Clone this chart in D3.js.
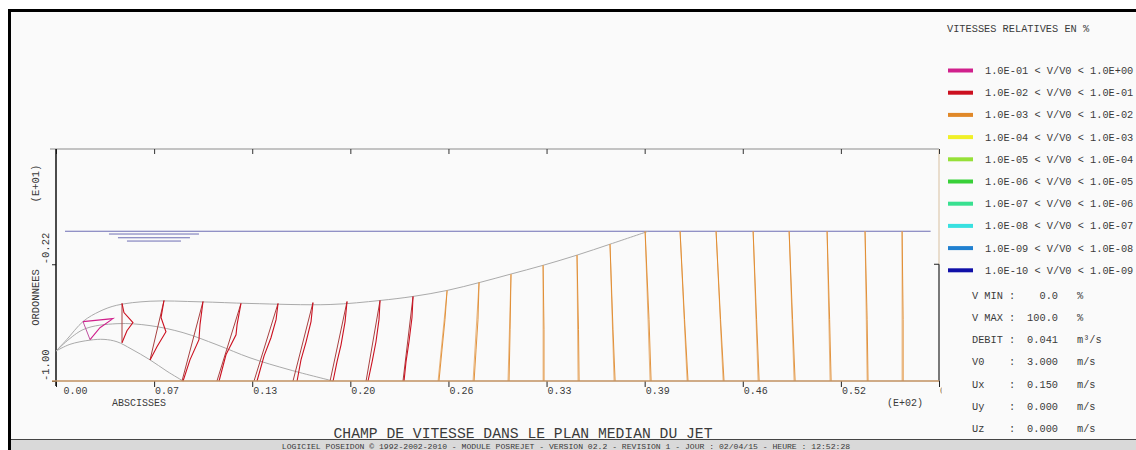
<!DOCTYPE html>
<html>
<head>
<meta charset="utf-8">
<script src="https://cdn.jsdelivr.net/npm/d3@7"></script>
<style>
body{margin:0;background:#fff}
svg{display:block}
text{font-family:"Liberation Mono","Courier New",monospace;fill:#3a3a3a}
</style>
</head>
<body>
<script>
// x in E+02, y in E+01
var xTicks = [0, 0.0654, 0.1308, 0.1962, 0.2616, 0.327, 0.3924, 0.4578, 0.5232, 0.5886];
var xTickLabels = ["0.00","0.07","0.13","0.20","0.26","0.33","0.39","0.46","0.52","0.59"];
var yTicks = [-1.0, -0.22];
var yTickLabels = ["-1.00","-0.22"];

// jet envelope
var upperEdge = [[0,-0.80],[0.0071,-0.724],[0.0182,-0.601],[0.0293,-0.534],[0.0405,-0.494],[0.0627,-0.467],
  [0.0960,-0.471],[0.1293,-0.482],[0.1827,-0.489],[0.2160,-0.462],[0.2380,-0.435],[0.2607,-0.395],
  [0.2827,-0.341],[0.3027,-0.287],[0.3247,-0.227],[0.3473,-0.159],[0.3693,-0.086],[0.3947,0]];
var centreLine = [[0,-0.80],[0.0180,-0.657],[0.0407,-0.617],[0.0627,-0.630],[0.0847,-0.677],
  [0.1073,-0.758],[0.1293,-0.845],[0.1560,-0.926],[0.1847,-1.0]];
var lowerEdge = [[0,-0.80],[0.0093,-0.755],[0.0227,-0.727],[0.0320,-0.722],[0.0407,-0.738],
  [0.0500,-0.785],[0.0627,-0.859],[0.0740,-0.935],[0.0847,-1.0]];

var waterLevel = [[0.006,0],[0.583,0]];
var waterMark = [[0.0353,0.0953,-0.018],[0.0413,0.0893,-0.043],[0.0473,0.0833,-0.065]];

// velocity profiles: band = legend class
var profiles = [
 {band:0, top:[0.0180,-0.603], bottom:[0.0227,-0.724], curve:[[0.0180,-0.603],[0.0380,-0.583],[0.0293,-0.644],[0.0227,-0.724]]},
 {band:1, top:[0.0440,-0.482], bottom:[0.0440,-0.744], curve:[[0.0440,-0.482],[0.0453,-0.543],[0.0513,-0.610],[0.0473,-0.664],[0.0440,-0.744]]},
 {band:1, top:[0.0720,-0.462], bottom:[0.0627,-0.859], curve:[[0.0720,-0.462],[0.0700,-0.576],[0.0733,-0.671],[0.0673,-0.771],[0.0627,-0.859]]},
 {band:1, top:[0.0980,-0.469], bottom:[0.0840,-1.0], curve:[[0.0980,-0.469],[0.0960,-0.623],[0.0953,-0.724],[0.0893,-0.859],[0.0847,-1.0]]},
 {band:1, top:[0.1233,-0.482], bottom:[0.1073,-1.0], curve:[[0.1233,-0.482],[0.1207,-0.623],[0.1200,-0.691],[0.1133,-0.825],[0.1087,-1.0]]},
 {band:1, top:[0.1480,-0.482], bottom:[0.1320,-1.0], curve:[[0.1480,-0.482],[0.1467,-0.590],[0.1433,-0.711],[0.1387,-0.832],[0.1340,-1.0]]},
 {band:1, top:[0.1713,-0.476], bottom:[0.1580,-1.0], curve:[[0.1713,-0.476],[0.1700,-0.603],[0.1667,-0.738],[0.1633,-0.859],[0.1607,-1.0]]},
 {band:1, top:[0.1940,-0.469], bottom:[0.1827,-1.0], curve:[[0.1940,-0.469],[0.1927,-0.603],[0.1900,-0.758],[0.1873,-0.872],[0.1847,-1.0]]},
 {band:1, top:[0.2160,-0.462], bottom:[0.2067,-1.0], curve:[[0.2160,-0.462],[0.2153,-0.590],[0.2133,-0.738],[0.2107,-0.872],[0.2080,-1.0]]},
 {band:1, top:[0.2380,-0.435], bottom:[0.2313,-1.0], curve:[[0.2380,-0.435],[0.2373,-0.576],[0.2353,-0.738],[0.2333,-0.872],[0.2320,-1.0]]},
 {band:2, top:[0.2607,-0.395], bottom:[0.2547,-1.0], curve:[[0.2607,-0.395],[0.2593,-0.590],[0.2573,-0.792],[0.2553,-1.0]]},
 {band:2, top:[0.2820,-0.341], bottom:[0.2780,-1.0], curve:[[0.2820,-0.341],[0.2813,-0.590],[0.2800,-0.792],[0.2787,-1.0]]},
 {band:2, top:[0.3033,-0.287], bottom:[0.3013,-1.0], curve:[[0.3033,-0.287],[0.3027,-0.657],[0.3020,-1.0]]},
 {band:2, top:[0.3247,-0.227], bottom:[0.3247,-1.0], curve:[[0.3247,-0.227],[0.3253,-0.657],[0.3253,-1.0]]},
 {band:2, top:[0.3473,-0.159], bottom:[0.3480,-1.0], curve:[[0.3473,-0.159],[0.3483,-0.657],[0.3487,-1.0]]},
 {band:2, top:[0.3693,-0.086], bottom:[0.3720,-1.0], curve:[[0.3693,-0.086],[0.3713,-0.657],[0.3727,-1.0]]},
 {band:2, top:[0.3927,0], bottom:[0.3960,-1.0], curve:[[0.3927,0],[0.3953,-0.590],[0.3967,-1.0]]},
 {band:2, top:[0.4160,0], bottom:[0.4207,-1.0], curve:[[0.4160,0],[0.4190,-0.590],[0.4213,-1.0]]},
 {band:2, top:[0.4400,0], bottom:[0.4447,-1.0], curve:[[0.4400,0],[0.4430,-0.590],[0.4453,-1.0]]},
 {band:2, top:[0.4647,0], bottom:[0.4680,-1.0], curve:[[0.4647,0],[0.4670,-0.590],[0.4687,-1.0]]},
 {band:2, top:[0.4887,0], bottom:[0.4920,-1.0], curve:[[0.4887,0],[0.4910,-0.590],[0.4927,-1.0]]},
 {band:2, top:[0.5140,0], bottom:[0.5160,-1.0], curve:[[0.5140,0],[0.5157,-0.590],[0.5167,-1.0]]},
 {band:2, top:[0.5393,0], bottom:[0.5407,-1.0], curve:[[0.5393,0],[0.5407,-0.590],[0.5413,-1.0]]},
 {band:2, top:[0.5640,0], bottom:[0.5640,-1.0], curve:[[0.5640,0],[0.5647,-0.590],[0.5647,-1.0]]}
];

var legendLabels = ["1.0E-01 < V/V0 < 1.0E+00","1.0E-02 < V/V0 < 1.0E-01","1.0E-03 < V/V0 < 1.0E-02",
  "1.0E-04 < V/V0 < 1.0E-03","1.0E-05 < V/V0 < 1.0E-04","1.0E-06 < V/V0 < 1.0E-05",
  "1.0E-07 < V/V0 < 1.0E-06","1.0E-08 < V/V0 < 1.0E-07","1.0E-09 < V/V0 < 1.0E-08",
  "1.0E-10 < V/V0 < 1.0E-09"];
var legendColours = ["#d0208c","#cc1020","#e08828","#f0f028","#96e038","#38d038","#38e090","#38e0e0","#2080d0","#1010a8"];
var baseColours = ["#c050a0","#a84040","#e8b47c"];

var statNames = ["V MIN :","V MAX :","DEBIT :","V0    :","Ux    :","Uy    :","Uz    :"];
var statValues = ["0.0","100.0","0.041","3.000","0.150","0.000","0.000"];
var statUnits = ["%","%","m\u00b3/s","m/s","m/s","m/s","m/s"];

var chartTitle = "CHAMP DE VITESSE DANS LE PLAN MEDIAN DU JET";
var footerText = "LOGICIEL POSEIDON \u00a9 1992-2002-2010 - MODULE POSREJET - VERSION 02.2 - REVISION 1 - JOUR : 02/04/15 - HEURE : 12:52:28";

var W = 1136, H = 450;
var plotL = 56, plotR = 939, plotT = 149, plotB = 381;

var svg = d3.select("body").append("svg").attr("width", W).attr("height", H);

// page frame
svg.append("rect").attr("x", 11).attr("y", 12).attr("width", W - 11).attr("height", 428).attr("fill", "#fafafa");
svg.append("line").attr("x1", 9.5).attr("y1", 9).attr("x2", 9.5).attr("y2", H).attr("stroke", "#000").attr("stroke-width", 3);
svg.append("line").attr("x1", 8).attr("y1", 10.5).attr("x2", W).attr("y2", 10.5).attr("stroke", "#000").attr("stroke-width", 3);
svg.append("rect").attr("x", 11).attr("y", 439.5).attr("width", W - 11).attr("height", 11).attr("fill", "#d9d9d9");
svg.append("line").attr("x1", 11).attr("y1", 439.5).attr("x2", W).attr("y2", 439.5).attr("stroke", "#444").attr("stroke-width", 1);

var x = d3.scaleLinear().domain([0, 0.5886]).range([plotL, plotR]);
var y = d3.scaleLinear().domain([-1, 0.55]).range([plotB, plotT]);

var line = d3.line().x(function(d){ return x(d[0]); }).y(function(d){ return y(d[1]); });
var smooth = d3.line().x(function(d){ return x(d[0]); }).y(function(d){ return y(d[1]); }).curve(d3.curveCatmullRom);

// plot frame
svg.append("line").attr("x1", 50).attr("y1", plotT).attr("x2", plotR).attr("y2", plotT).attr("stroke", "#8c8c8c").attr("stroke-width", 1.2);
svg.append("line").attr("x1", plotR).attr("y1", plotT).attr("x2", plotR).attr("y2", y(-0.22)).attr("stroke", "#d8c0a0").attr("stroke-width", 1);
svg.append("line").attr("x1", plotR).attr("y1", y(-0.22)).attr("x2", plotR).attr("y2", plotB).attr("stroke", "#222").attr("stroke-width", 1.2);
svg.append("line").attr("x1", plotR - 5).attr("y1", y(-0.22)).attr("x2", plotR).attr("y2", y(-0.22)).attr("stroke", "#222");

// top ticks
var topAxis = svg.append("g").attr("transform", "translate(0," + plotT + ")")
  .call(d3.axisBottom(x).tickValues(xTicks).tickSize(5).tickFormat(""));
topAxis.select(".domain").remove();
topAxis.selectAll("line").attr("stroke", "#333");

// bottom axis
var botAxis = svg.append("g").attr("transform", "translate(0," + plotB + ")")
  .call(d3.axisBottom(x).tickValues(xTicks).tickSize(6).tickFormat(function(d, i){ return xTickLabels[i]; }));
botAxis.select(".domain").remove();
botAxis.selectAll("line").attr("stroke", "#222");
botAxis.selectAll("text").attr("text-anchor", "start").attr("y", 6)
  .attr("x", function(d, i){ return i == 0 ? 7 : 0.5; })
  .style("font-family", "'Liberation Mono',monospace").style("font-size", "10px").attr("fill", "#3a3a3a");

// left axis
var leftAxis = svg.append("g").attr("transform", "translate(" + plotL + ",0)")
  .call(d3.axisLeft(y).tickValues(yTicks).tickSize(4).tickFormat(""));
leftAxis.select(".domain").remove();
leftAxis.selectAll("line").attr("stroke", "#222");
svg.append("line").attr("x1", plotL).attr("y1", plotT).attr("x2", plotL).attr("y2", plotB + 5).attr("stroke", "#111").attr("stroke-width", 1.5);

svg.selectAll(".ylab").data(yTicks).enter().append("text").attr("class", "ylab")
  .attr("transform", function(d){ return "translate(48.5," + y(d) + ") rotate(-90)"; })
  .attr("text-anchor", "start").style("font-size", "10.5px")
  .text(function(d, i){ return yTickLabels[i]; });

svg.append("text").attr("transform", "translate(38.5,297.5) rotate(-90)").attr("text-anchor", "middle")
  .style("font-size", "10.5px").text("ORDONNEES");
svg.append("text").attr("transform", "translate(38.5,183.5) rotate(-90)").attr("text-anchor", "middle")
  .style("font-size", "10.5px").text("(E+01)");
svg.append("text").attr("x", 112).attr("y", 406).style("font-size", "10px").text("ABSCISSES");
svg.append("text").attr("x", 887).attr("y", 406).style("font-size", "10px").text("(E+02)");

// water surface
svg.append("path").attr("d", line(waterLevel)).attr("stroke", "#6e6eb4").attr("stroke-width", 1.1).attr("fill", "none");
svg.selectAll(".wm").data(waterMark).enter().append("line").attr("class", "wm")
  .attr("x1", function(d){ return x(d[0]); }).attr("x2", function(d){ return x(d[1]); })
  .attr("y1", function(d){ return y(d[2]); }).attr("y2", function(d){ return y(d[2]); })
  .attr("stroke", "#6e6eb4").attr("stroke-width", 1);

// jet envelope
[upperEdge, centreLine, lowerEdge].forEach(function(c){
  svg.append("path").attr("d", smooth(c)).attr("stroke", "#aaaaaa").attr("stroke-width", 1).attr("fill", "none");
});

// profiles
var pg = svg.append("g");
profiles.forEach(function(p){
  pg.append("path").attr("d", line([p.top, p.bottom])).attr("stroke", baseColours[p.band])
    .attr("stroke-width", 1).attr("fill", "none");
  pg.append("path").attr("d", line(p.curve)).attr("stroke", legendColours[p.band])
    .attr("stroke-width", p.band == 2 ? 0.9 : 1.1).attr("fill", "none");
});

// floor
svg.append("line").attr("x1", 52).attr("y1", plotB).attr("x2", plotR).attr("y2", plotB).attr("stroke", "#c09060").attr("stroke-width", 1.5);

// legend panel
svg.append("rect").attr("x", 941.5).attr("y", 12).attr("width", W - 941.5).attr("height", 427).attr("fill", "#fafafa");
svg.append("text").attr("x", 947).attr("y", 32).style("font-size", "10.3px").text("VITESSES RELATIVES EN %");

var rowY = d3.scaleLinear().domain([0, 1]).range([70.5, 92.7]);
var lg = svg.selectAll(".lg").data(legendLabels).enter().append("g").attr("class", "lg")
  .attr("transform", function(d, i){ return "translate(0," + rowY(i) + ")"; });
lg.append("rect").attr("x", 948).attr("y", -2).attr("width", 25).attr("height", 4)
  .attr("fill", function(d, i){ return legendColours[i]; });
lg.append("text").attr("x", 985).attr("y", 3.5).style("font-size", "10.3px").text(function(d){ return d; });

var sRow = d3.scaleLinear().domain([0, 1]).range([295, 317.3]);
var sg = svg.selectAll(".st").data(statNames).enter().append("g").attr("class", "st")
  .attr("transform", function(d, i){ return "translate(0," + sRow(i) + ")"; });
sg.append("text").attr("x", 972).attr("y", 3.5).style("font-size", "10.3px").style("white-space", "pre").text(function(d){ return d; });
sg.append("text").attr("x", 1058).attr("y", 3.5).attr("text-anchor", "end").style("font-size", "10.3px").text(function(d, i){ return statValues[i]; });
sg.append("text").attr("x", 1077).attr("y", 3.5).style("font-size", "10.3px").text(function(d, i){ return statUnits[i]; });

// titles
svg.append("text").attr("x", 523).attr("y", 438).attr("text-anchor", "middle").style("font-size", "14.7px").text(chartTitle);
svg.append("text").attr("x", 566).attr("y", 449).attr("text-anchor", "middle").style("font-size", "8.1px").text(footerText);
</script>
</body>
</html>
